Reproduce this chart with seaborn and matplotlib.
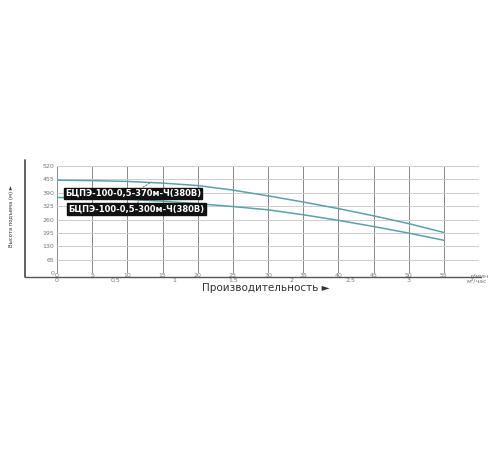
import matplotlib
matplotlib.use("Agg")
import matplotlib.pyplot as plt
import seaborn as sns
import pandas as pd
from matplotlib.lines import Line2D

# ---- data ----
flow_lpm = [0, 5, 10, 15, 20, 25, 30, 35, 40, 45, 50, 55]
head_370 = [451, 449, 445, 437, 425, 403, 375, 345, 313, 278, 240, 197]
head_300 = [367, 364, 358, 349, 337, 323, 307, 283, 256, 226, 194, 159]
series_names = ["БЦПЭ-100-0,5-370м-Ч(380В)", "БЦПЭ-100-0,5-300м-Ч(380В)"]
y_ticks = [0, 65, 130, 195, 260, 325, 390, 455, 520]
x_ticks_lpm = [0, 5, 10, 15, 20, 25, 30, 35, 40, 45, 50, 55, 60]
x_labels_lpm = ["0", "5", "10", "15", "20", "25", "30", "35", "40", "45", "50", "55", "л/мин"]
x_ticks_m3h = [0, 0.5, 1, 1.5, 2, 2.5, 3, 3.58]
x_labels_m3h = ["0", "0,5", "1", "1,5", "2", "2,5", "3", "м³/час"]
y_label = "Высота подъема (м) ►"
x_label = "Производительность ►"

df = pd.DataFrame({
    "flow": flow_lpm * 2,
    "head": head_370 + head_300,
    "model": [series_names[0]] * len(flow_lpm) + [series_names[1]] * len(flow_lpm),
})

sns.set_theme(style="white")
plt.rcParams["font.family"] = ["DejaVu Sans"]

fig = plt.figure(figsize=(5, 4.5), dpi=100)
W, H = 500, 450
ax = fig.add_axes([57 / W, 1 - 273 / H, (479 - 57) / W, (273 - 166) / H])

line_col = "#5aa2a8"
sns.lineplot(data=df, x="flow", y="head", hue="model",
             palette=[line_col, line_col], legend=False, ax=ax, linewidth=1.1)

ax.set_xlim(0, 60)
ax.set_ylim(0, 520)
ax.set_xticks(x_ticks_lpm)
ax.set_xticklabels(x_labels_lpm)
ax.set_yticks(y_ticks)
ax.set_yticklabels([str(v) for v in y_ticks])
ax.tick_params(axis="both", length=0, labelsize=4.5, colors="#777777")
ax.tick_params(axis="x", pad=0.3)
ax.tick_params(axis="y", pad=2)
ax.set_xlabel("")
ax.set_ylabel("")
for x in x_ticks_lpm:
    ax.axvline(x, color="#888888", lw=0.7, zorder=0)
for y in y_ticks:
    ax.axhline(y, color="#cccccc", lw=0.7, zorder=0)
for s in ax.spines.values():
    s.set_visible(False)

sec = ax.secondary_xaxis("bottom", functions=(lambda v: v / 16.6667, lambda v: v * 16.6667))
sec.set_xticks(x_ticks_m3h)
sec.set_xticklabels(x_labels_m3h)
sec.tick_params(length=0, labelsize=4.5, colors="#777777", pad=3.6)
sec.spines["bottom"].set_visible(False)

# frame lines
fig.add_artist(Line2D([25 / W, 25 / W], [1 - 160 / H, 1 - 277 / H], color="#555555", lw=1.3))
fig.add_artist(Line2D([25 / W, 481 / W], [1 - 276.5 / H, 1 - 276.5 / H], color="#555555", lw=1.0))

# axis labels
fig.text(12 / W, 1 - 216 / H, y_label, rotation=90, ha="center", va="center",
         fontsize=4.2, fontstretch="condensed", color="#333333")
fig.text(266 / W, 1 - 288 / H, x_label, ha="center", va="center",
         fontsize=7.5, color="#333333")

# series labels
box = dict(boxstyle="square,pad=0.15", fc="#111111", ec="#111111")
arrow = dict(arrowstyle="-", linestyle=(0, (2, 1.5)), color="#666666", lw=0.6, shrinkA=0, shrinkB=0)
ax.annotate(series_names[0], xy=(13.3, head_370[3] + 3), xytext=(10.8, 387),
            ha="center", va="center", fontsize=6, fontweight="bold", color="white",
            bbox=box, arrowprops=arrow)
ax.annotate(series_names[1], xy=(11.6, 356), xytext=(11.3, 310),
            ha="center", va="center", fontsize=6, fontweight="bold", color="white",
            bbox=box, arrowprops=arrow)

fig.savefig("out.png", dpi=100, facecolor="white")
